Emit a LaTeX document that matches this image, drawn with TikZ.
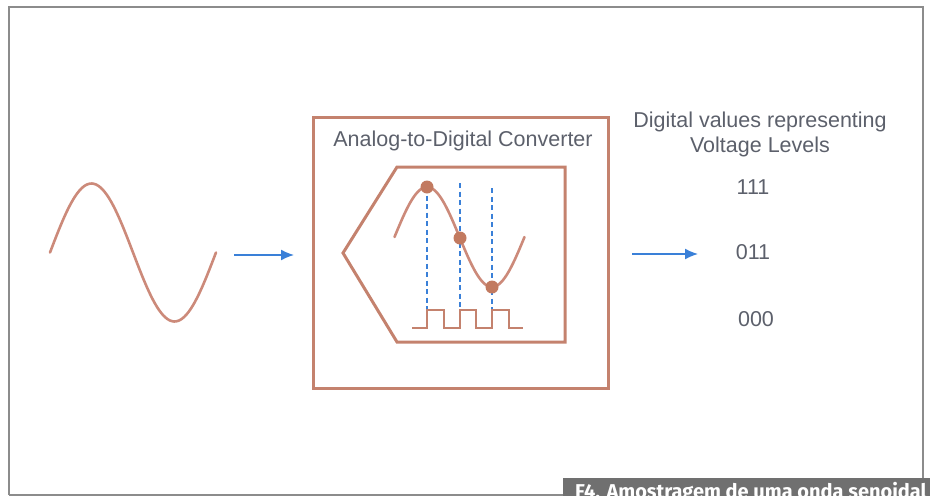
\documentclass[tikz,border=0pt]{standalone}
\usepackage{fontspec}
\setmainfont{Liberation Sans}
\newfontfamily\capfont{Fira Sans}
\usetikzlibrary{arrows.meta}

\definecolor{adcbrown}{HTML}{C4826E}
\definecolor{wavebrown}{HTML}{CC8A7A}
\definecolor{dotbrown}{HTML}{C27A60}
\definecolor{arrowblue}{HTML}{3A80D8}
\definecolor{textgray}{HTML}{5C606B}
\definecolor{framegray}{HTML}{8C8C8C}
\definecolor{bargray}{HTML}{707070}

\tikzset{
  wave/.style={wavebrown, line width=2.6pt, line cap=round},
  adcline/.style={adcbrown, line width=3pt},
  sample/.style={arrowblue, line width=1.6pt, dash pattern=on 5pt off 3.5pt},
  flow/.style={arrowblue, line width=1.5pt, -{Latex[length=13pt,width=11pt]}},
  label/.style={textgray, font=\fontsize{21.5}{25}\selectfont, inner sep=0pt, align=center}
}

\begin{document}
\begin{tikzpicture}[x=1pt, y=-1pt]

  \useasboundingbox (0,0) rectangle (930,496);

  % outer frame
  \draw[framegray, line width=1.8pt] (9,495) -- (9,7) -- (923,7) -- (923,478);
  \draw[framegray, line width=1.8pt] (9,495) -- (563,495);

  % analog input
  \draw[wave, domain=50:216, samples=80] plot (\x, {252.5-69*sin((\x-50)/166*360)});

  \coordinate (in1) at (234,255);
  \coordinate (in2) at (294,255);
  \draw[flow] (in1) -- (in2);

  % converter
  \draw[adcline] (313,117) rectangle (608,388);
  \node[label] (title) at (463,141) {Analog-to-Digital Converter};
  \draw[adcline] (397,167) -- (565,167) -- (565,342) -- (397,342) -- (343,253) -- cycle;

  \draw[wave, domain=394.5:524.5, samples=80] plot (\x, {237-50*sin((\x-394.5)/130*360)});

  \coordinate (s1) at (427,187);
  \coordinate (s2) at (460,238);
  \coordinate (s3) at (492,287);
  \draw[sample] (s1) -- (427,310);
  \draw[sample] (460,183) -- (460,310);
  \draw[sample] (492,188) -- (492,310);
  \foreach \s in {s1,s2,s3}
    \fill[dotbrown] (\s) circle (6.5);

  \draw[adcbrown, line width=2.4pt] (412,328) -- (427,328) -- (427,310) -- (444,310) -- (444,328)
    -- (460,328) -- (460,310) -- (476,310) -- (476,328) -- (492,328) -- (492,310)
    -- (509,310) -- (509,328) -- (523,328);

  % digital output
  \coordinate (out1) at (632,254);
  \coordinate (out2) at (698,254);
  \draw[flow] (out1) -- (out2);

  \node[label] (values) at (760,134) {Digital values representing\\Voltage Levels};
  \node[label] (v111) at (753,187) {111};
  \node[label] (v011) at (753,252) {011};
  \node[label] (v000) at (756,319) {000};

  % caption
  \fill[bargray] (563,478) rectangle (930,496);
  \node[white, font=\capfont\bfseries\fontsize{20}{20}\selectfont, anchor=base west, inner sep=0pt]
    (caption) at (575,498) {F4. Amostragem de uma onda senoidal};

\end{tikzpicture}
\end{document}
